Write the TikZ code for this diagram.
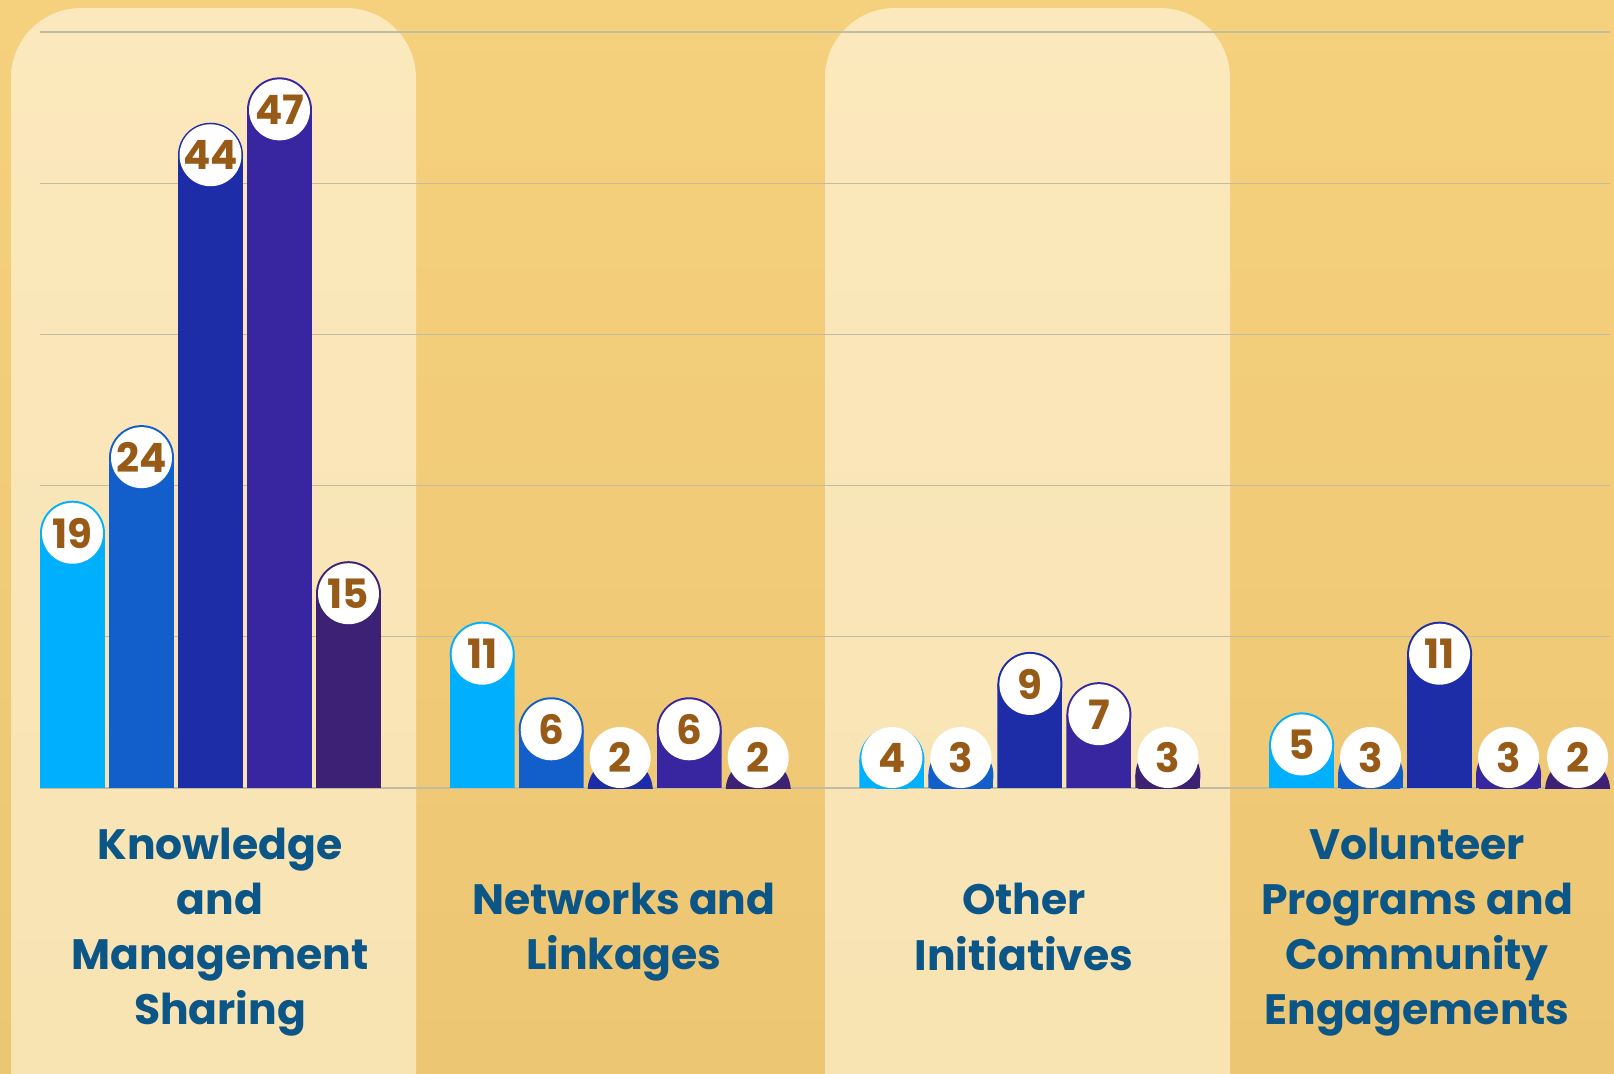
\documentclass[tikz,border=0pt]{standalone}
\usepackage{fontspec}
\setmainfont{Poppins}
\definecolor{bgtop}{HTML}{F5D07D}
\definecolor{bgmid}{HTML}{EAC371}
\definecolor{bgbot}{HTML}{EDC673}
\definecolor{paneltop}{HTML}{FBE8BC}
\definecolor{panelbot}{HTML}{F7E2B1}
\definecolor{gridgray}{HTML}{C2BDA0}
\definecolor{numbrown}{HTML}{975B17}
\definecolor{lblblue}{HTML}{0B5687}
\definecolor{barc0}{HTML}{00B0FF}
\definecolor{barc1}{HTML}{125FCB}
\definecolor{barc2}{HTML}{1D2CA7}
\definecolor{barc3}{HTML}{3826A1}
\definecolor{barc4}{HTML}{3C2175}
\newcommand{\drawbar}[4]{%
  \pgfmathsetmacro{\bt}{788-#2*15.12}%
  \pgfmathsetmacro{\bc}{\bt+32.5}%
  \pgfmathsetmacro{\nc}{min(\bc,757.5)}%
  \pgfmathsetmacro{\bx}{#1+32.5}%
  \pgfmathsetmacro{\bxr}{#1+65}%
  \begin{scope}
    \clip (#1,0) rectangle (\bxr,788);
    \fill[#3] (\bx,\bc) circle[radius=32.5];
    \fill[#3] (#1,\bc) rectangle (\bxr,788);
  \end{scope}
  \node[numc] (#4) at (\bx,\nc) {#2};
}
\begin{document}
\begin{tikzpicture}[x=0.02cm,y=-0.02cm,
  numc/.style={circle,fill=white,minimum size=1.22cm,inner sep=0pt,text=numbrown,font=\fontsize{23}{23}\selectfont\bfseries},
  lbl/.style={align=center,text=lblblue,font=\fontsize{24.2}{31.4}\selectfont\bfseries},
  gridline/.style={draw=gridgray,line width=0.6pt}]
\useasboundingbox (0,0) rectangle (1614,1073);
\shade[top color=bgtop,middle color=bgmid,bottom color=bgbot] (0,0) rectangle (1614,1073);
\foreach \px in {11,825}{
  \shade[top color=paneltop,bottom color=panelbot,rounded corners=1.4cm]
    (\px,1250) -- (\px,8) -- ({\px+405},8) -- ({\px+405},1250) -- cycle;
}
\foreach \k in {0,...,5}{
  \draw[gridline] (40,{788-\k*151.2}) -- (1610,{788-\k*151.2});
}
\foreach \g/\vals in {0/{19,24,44,47,15},1/{11,6,2,6,2},2/{4,3,9,7,3},3/{5,3,11,3,2}}{
  \foreach \v [count=\i from 0] in \vals {
    \pgfmathsetmacro{\xl}{40+\g*409.7+\i*69}
    \drawbar{\xl}{\v}{barc\i}{n\g\i}
  }
}
\node[lbl] (l0) at (220,932) {Knowledge\\and\\Management\\Sharing};
\node[lbl] (l1) at (624,932) {Networks and\\Linkages};
\node[lbl] (l2) at (1024,927) {Other\\Initiatives};
\node[lbl] (l3) at (1417,932) {Volunteer\\Programs and\\Community\\Engagements};
\end{tikzpicture}
\end{document}
